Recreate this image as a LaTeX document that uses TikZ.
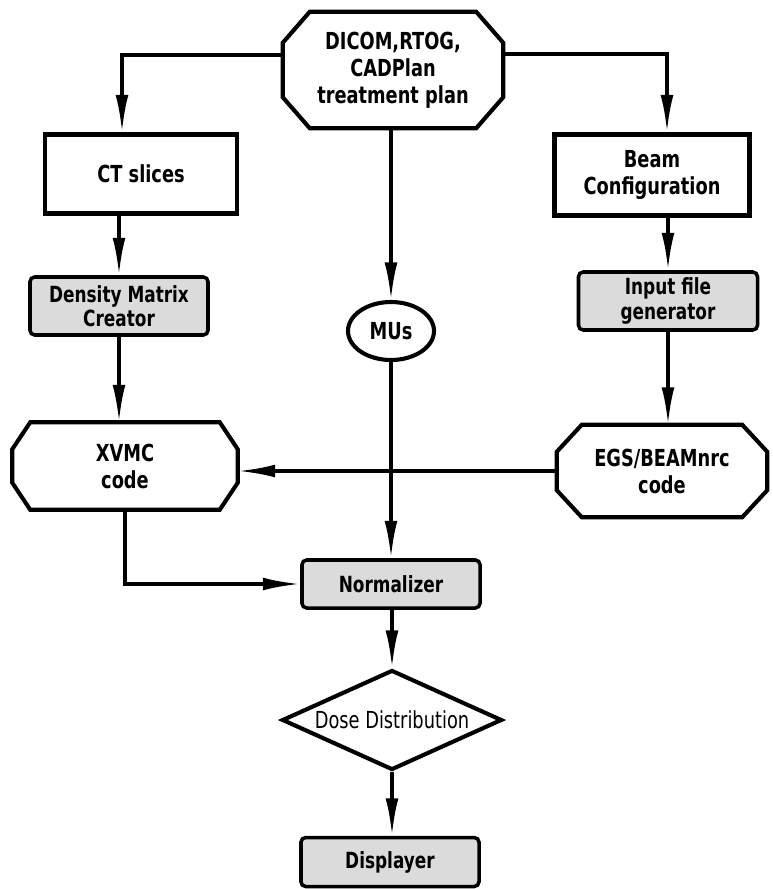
\documentclass[tikz,border=0pt]{standalone}
\usepackage{fontspec}
\setmainfont{DejaVu Sans}[FakeStretch=0.76]
\usepackage{tikz}
\usetikzlibrary{shapes.geometric}
\usetikzlibrary{arrows.meta}
\tikzset{
  titlefont/.style={font=\bfseries\fontsize{20}{23}\selectfont},
  plainbox/.style={draw, line width=3.5pt, titlefont, align=center, inner sep=2pt},
  cutbox/.style={draw=none, titlefont, align=center, inner sep=2pt},
  greybox/.style={draw, rounded corners=4pt, fill=gray!28, line width=3pt, align=center,
    inner sep=1pt, font=\bfseries\fontsize{19}{21}\selectfont},
  decision/.style={diamond, draw, line width=3.5pt, inner sep=0pt},
  flow/.style={line width=3pt, -{Latex[length=32pt,width=11pt]}}
}
% octagon frame round a rectangular node: name, corner cut x, corner cut y
\newcommand{\cutframe}[3]{\draw[line width=3.5pt, line join=miter]
  ([xshift=#2]#1.north west) -- ([xshift=-#2]#1.north east) -- ([yshift=-#3]#1.north east)
  -- ([yshift=#3]#1.south east) -- ([xshift=-#2]#1.south east) -- ([xshift=#2]#1.south west)
  -- ([yshift=#3]#1.south west) -- ([yshift=-#3]#1.north west) -- cycle;}

\begin{document}
\begin{tikzpicture}[x=0.03cm, y=-0.03cm]
  \useasboundingbox (0,0) rectangle (772,889);
  % top
  \node[cutbox, minimum width=6.6cm, minimum height=3.48cm] (plan) at (393,70) {DICOM,RTOG,\\CADPlan\\treatment plan};
  \cutframe{plan}{0.81cm}{0.93cm}
  % left column
  \node[plainbox, minimum width=5.76cm, minimum height=2.37cm] (ct) at (141,174) {CT slices};
  \node[greybox, minimum width=5.34cm, minimum height=1.74cm] (dens) at (119,306) {Density Matrix\\Creator};
  \node[cutbox, minimum width=6.75cm, minimum height=2.61cm] (xvmc) at (125,466) {XVMC\\code};
  \cutframe{xvmc}{0.54cm}{0.81cm}
  % right column
  \node[plainbox, minimum width=5.85cm, minimum height=2.43cm] (beam) at (652,175) {Beam\\Configuration};
  \node[greybox, minimum width=5.37cm, minimum height=1.74cm] (input) at (668,301) {Input file\\generator};
  \node[cutbox, minimum width=6.3cm, minimum height=2.76cm] (egs) at (662,471) {EGS/BEAMnrc\\code};
  \cutframe{egs}{0.75cm}{0.81cm}
  % middle
  \node[ellipse, draw, line width=3.5pt, titlefont, inner sep=0pt,
    minimum width=2.58cm, minimum height=1.74cm] (mus) at (391,331) {MUs};
  \node[greybox, minimum width=5.34cm, minimum height=1.44cm] (norm) at (391,584) {Normalizer};
  \node[decision, minimum width=6.6cm, minimum height=3cm,
    label={[font=\fontsize{20}{23}\selectfont]center:Dose Distribution}] (dose) at (392,720) {};
  \node[greybox, minimum width=5.34cm, minimum height=1.47cm] (disp) at (390,862) {Displayer};

  % arrows
  \draw[flow] ([yshift=0.45cm]plan.west) -| ([xshift=-0.57cm]ct.north);
  \draw[flow] ([yshift=0.48cm]plan.east) -| ([xshift=0.45cm]beam.north);
  \draw[flow] (plan.south -| mus.north) -- (mus.north);
  \draw[flow] (ct.south -| dens.north) -- (dens.north);
  \draw[flow] (beam.south -| input.north) -- (input.north);
  \draw[flow] (dens.south) -- (dens.south |- xvmc.north);
  \draw[flow] (input.south) -- (input.south |- egs.north);
  \draw[flow] (egs.west) -- (egs.west -| xvmc.east);
  \draw[flow] (mus.south) -- (norm.north);
  \draw[flow] (xvmc.south) |- (norm.west);
  \draw[flow] (norm.south -| dose.north) -- (dose.north);
  \draw[flow] (dose.south) -- (dose.south |- disp.north);
\end{tikzpicture}
\end{document}
